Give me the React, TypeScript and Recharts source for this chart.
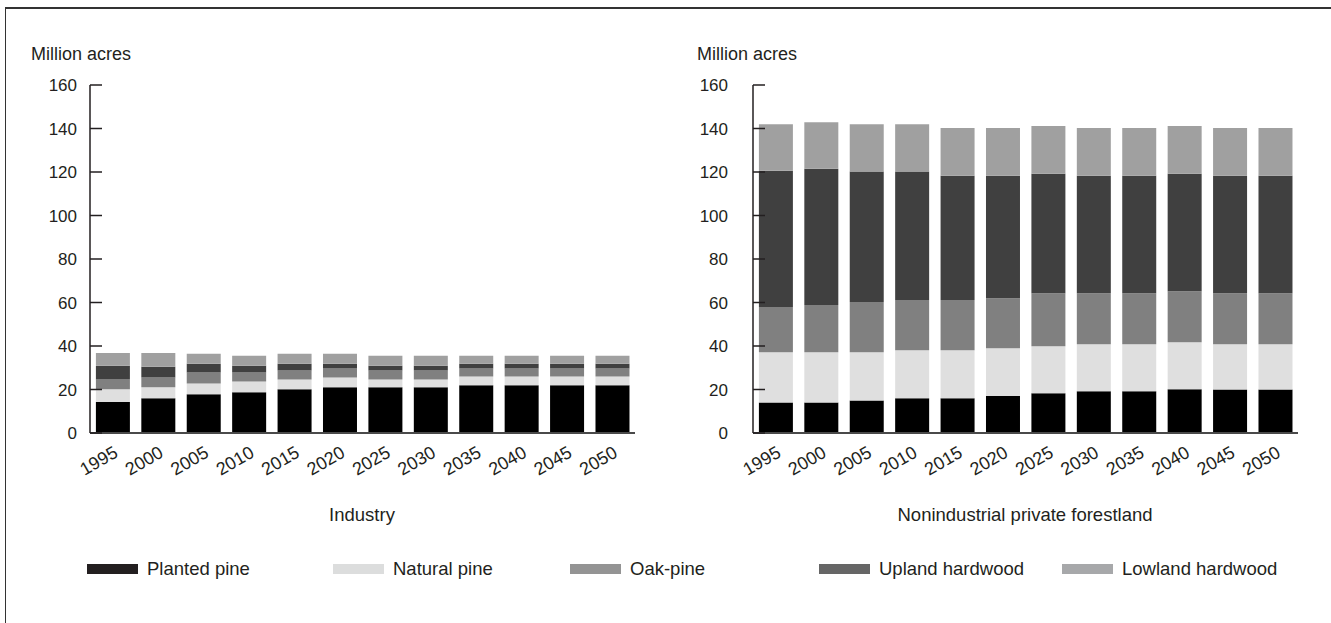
import { BarChart, Bar, XAxis, YAxis } from 'recharts';

const years = ['1995', '2000', '2005', '2010', '2015', '2020', '2025', '2030', '2035', '2040', '2045', '2050'];
const yTicks = [0, 20, 40, 60, 80, 100, 120, 140, 160];

// Industry (million acres)
const industryPlanted = [14.3, 16, 17.8, 18.7, 20.1, 21, 21, 21, 21.9, 21.9, 21.9, 21.9];
const industryNatural = [5.8, 5, 5, 5, 4.5, 4.5, 3.6, 3.6, 4.1, 4.1, 4.1, 4.1];
const industryOakPine = [4.5, 4.5, 5, 4.1, 4.1, 4.1, 4.1, 4.1, 3.6, 3.6, 3.6, 3.6];
const industryUpland = [6.3, 5, 4, 3.1, 3.1, 2.2, 2.2, 2.2, 2.2, 2.2, 2.2, 2.2];
const industryLowland = [5.9, 6.3, 4.6, 4.6, 4.6, 4.6, 4.6, 4.6, 3.7, 3.7, 3.7, 3.7];

// Nonindustrial private forestland (million acres)
const nipfPlanted = [14, 14, 15, 16, 16, 17, 18.3, 19.2, 19.2, 20.1, 20, 20];
const nipfNatural = [23.1, 23.1, 22.1, 22.1, 22, 22, 21.6, 21.6, 21.6, 21.6, 20.8, 20.8];
const nipfOakPine = [20.8, 21.7, 23.1, 23, 23.1, 23, 24.4, 23.5, 23.5, 23.5, 23.5, 23.5];
const nipfUpland = [62.7, 62.7, 60, 59.1, 57.2, 56.3, 54.9, 54, 54, 54, 54, 54];
const nipfLowland = [21.4, 21.4, 21.8, 21.8, 21.9, 21.9, 21.9, 21.9, 21.9, 21.9, 21.9, 21.9];

const SERIES = [
  { key: 'planted', name: 'Planted pine', fill: '#000000', swatch: '#231f20' },
  { key: 'natural', name: 'Natural pine', fill: '#dfdfdf', swatch: '#dcdddd' },
  { key: 'oakPine', name: 'Oak-pine', fill: '#808080', swatch: '#949494' },
  { key: 'upland', name: 'Upland hardwood', fill: '#404040', swatch: '#666666' },
  { key: 'lowland', name: 'Lowland hardwood', fill: '#a0a0a0', swatch: '#a7a8aa' },
];

const buildRows = (cols: number[][]) =>
  years.map((year, i) => ({
    year,
    planted: cols[0][i],
    natural: cols[1][i],
    oakPine: cols[2][i],
    upland: cols[3][i],
    lowland: cols[4][i],
  }));

const industryData = buildRows([industryPlanted, industryNatural, industryOakPine, industryUpland, industryLowland]);
const nipfData = buildRows([nipfPlanted, nipfNatural, nipfOakPine, nipfUpland, nipfLowland]);

const INK = '#231f20';
const FONT = '"Liberation Sans", Arial, sans-serif';

function Panel({
  data,
  left,
  width,
  axisWidth,
  right,
  labelGap,
}: {
  data: any[];
  left: number;
  width: number;
  axisWidth: number;
  right: number;
  labelGap: number;
}) {
  return (
    <div style={{ position: 'absolute', left, top: 0 }}>
      <BarChart
        width={width}
        height={500}
        data={data}
        margin={{ top: 85, right, bottom: 17, left: 0 }}
        barCategoryGap="13%"
      >
        <XAxis
          dataKey="year"
          height={50}
          interval={0}
          tickLine={false}
          angle={-30}
          textAnchor="end"
          tickMargin={6}
          axisLine={{ stroke: '#4a4a4a', strokeWidth: 2 }}
          tick={{ fill: INK, fontSize: 18 }}
        />
        <YAxis
          width={axisWidth}
          domain={[0, 160]}
          ticks={yTicks}
          interval={0}
          tickSize={-12}
          tickMargin={labelGap + 12}
          axisLine={{ stroke: INK, strokeWidth: 1.5 }}
          tickLine={{ stroke: INK, strokeWidth: 1.5 }}
          tick={{ fill: INK, fontSize: 17 }}
        />
        {SERIES.map((s) => (
          <Bar key={s.key} dataKey={s.key} name={s.name} stackId="a" fill={s.fill} isAnimationActive={false} />
        ))}
      </BarChart>
    </div>
  );
}

const legendSwatchX = [87, 333, 570, 819, 1062];

export default function App() {
  return (
    <div style={{ position: 'absolute', left: 0, top: 0, width: 1331, height: 623, fontFamily: FONT, color: INK, background: '#fff' }}>
      {/* frame */}
      <div style={{ position: 'absolute', left: 5, top: 7, width: 1326, height: 616, borderTop: '2px solid #333', borderLeft: '1px solid #333' }} />

      <div style={{ position: 'absolute', left: 31, top: 44, fontSize: 18 }}>Million acres</div>
      <div style={{ position: 'absolute', left: 697, top: 44, fontSize: 18 }}>Million acres</div>

      <Panel data={industryData} left={0} width={660} axisWidth={90} right={25} labelGap={13} />
      <Panel data={nipfData} left={660} width={660} axisWidth={93} right={22} labelGap={25} />

      <div style={{ position: 'absolute', left: 212, width: 300, top: 504, fontSize: 18.5, textAlign: 'center' }}>Industry</div>
      <div style={{ position: 'absolute', left: 875, width: 300, top: 504, fontSize: 18.5, textAlign: 'center' }}>
        Nonindustrial private forestland
      </div>

      {SERIES.map((s, i) => (
        <div key={s.key} style={{ position: 'absolute', left: legendSwatchX[i], top: 558, display: 'flex', alignItems: 'center', fontSize: 18.5, whiteSpace: 'nowrap' }}>
          <span style={{ display: 'inline-block', width: 51, height: 10, background: s.swatch, marginRight: 9 }} />
          {s.name}
        </div>
      ))}
    </div>
  );
}
